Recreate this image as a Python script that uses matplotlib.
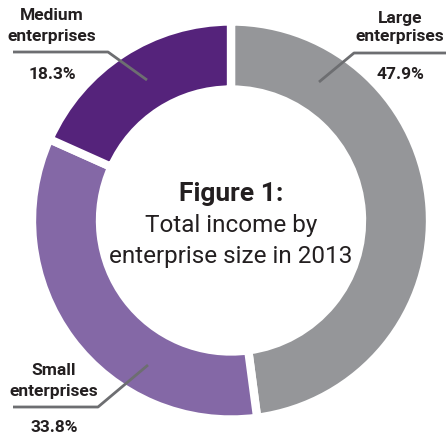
import matplotlib.pyplot as plt

# Income share by enterprise size, 2013
categories = ["Large enterprises", "Small enterprises", "Medium enterprises"]
shares = [47.9, 33.8, 18.3]
share_labels = ["47.9%", "33.8%", "18.3%"]
colors = ["#959699", "#8468a6", "#55237b"]

plt.rcParams['font.family'] = ['Roboto', 'DejaVu Sans']

fig = plt.figure(figsize=(4.48, 4.37), dpi=100)
ax = fig.add_axes([0, 0, 1, 1])
W, H = 448, 437

# ring geometry in pixel units (y measured from the top)
cx, cy = 231, 220.5
r_out, ring = 199, 68

ax.pie(shares, colors=colors, startangle=90, counterclock=False,
       center=(cx, H - cy), radius=r_out, frame=True,
       wedgeprops=dict(width=ring, edgecolor='white', linewidth=6))
ax.set_xlim(0, W)
ax.set_ylim(0, H)
ax.set_aspect('equal')
ax.axis('off')

text_col = "#231f20"
line_col = "#6d6e71"

def callout(x, lines, leader):
    for txt, base in lines:
        ax.text(x, H - base, txt, ha='center', va='baseline', fontsize=12.5,
                fontweight='bold', color=text_col)
    xs = [p[0] for p in leader]
    ys = [H - p[1] for p in leader]
    ax.plot(xs, ys, color=line_col, lw=2, solid_capstyle='butt')

large_name = categories[0].split()
small_name = categories[1].split()
medium_name = categories[2].split()

callout(400, [(large_name[0], 22.5), (large_name[1], 41.5),
              (share_labels[0], 79)],
        [(446, 53), (354, 53), (319, 82)])
callout(52, [(medium_name[0], 20.5), (medium_name[1], 41.5),
             (share_labels[2], 79)],
        [(13, 52), (108, 52), (147, 80)])
callout(54, [(small_name[0], 375), (small_name[1], 396),
             (share_labels[1], 431.5)],
        [(13, 407), (98, 407), (148, 365)])

# Centre caption
ax.text(cx, H - 201, "Figure 1:", ha='center', va='baseline', fontsize=19,
        fontweight='bold', color=text_col)
ax.text(cx, H - 232, "Total income by", ha='center', va='baseline',
        fontsize=17.5, color=text_col)
ax.text(cx, H - 263, "enterprise size in 2013", ha='center', va='baseline',
        fontsize=17.5, color=text_col)

fig.savefig("out.png", dpi=100)
